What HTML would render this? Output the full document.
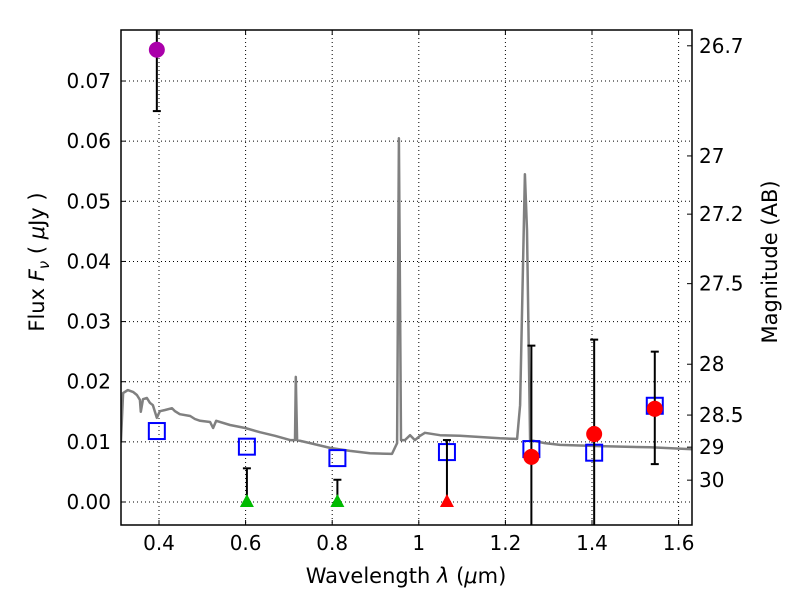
<!DOCTYPE html>
<html><head><meta charset="utf-8"><style>
body{margin:0;background:#fff}
svg text{font-family:"DejaVu Sans","Liberation Sans",sans-serif;fill:#000}
</style></head><body>
<svg id="chart" width="800" height="600" xmlns="http://www.w3.org/2000/svg">
<g id="grid"></g>
<g id="plot"></g>
<g id="axes"></g>
</svg>
<script>
const xTicks=[0.4,0.6,0.8,1.0,1.2,1.4,1.6];
const xTickLabels=["0.4","0.6","0.8","1","1.2","1.4","1.6"];
const yTicks=[0,0.01,0.02,0.03,0.04,0.05,0.06,0.07];
const yTickLabels=["0.00","0.01","0.02","0.03","0.04","0.05","0.06","0.07"];
const magTicks=[26.7,27,27.2,27.5,28,28.5,29,30];
const magTickLabels=["26.7","27","27.2","27.5","28","28.5","29","30"];
const specLam=[0.312,0.317,0.328,0.340,0.349,0.356,0.358,0.363,0.372,0.379,0.386,0.395,0.402,0.414,0.430,0.437,0.448,0.472,0.483,0.495,0.518,0.525,0.532,0.564,0.599,0.633,0.668,0.703,0.714,0.716,0.719,0.749,0.795,0.841,0.887,0.938,0.950,0.954,0.959,0.968,0.980,0.991,1.003,1.014,1.049,1.095,1.141,1.187,1.227,1.234,1.245,1.250,1.257,1.291,1.326,1.418,1.534,1.626,1.65];
const specFlux=[0.0100,0.0181,0.0186,0.0183,0.0178,0.0170,0.0150,0.0171,0.0173,0.0165,0.0161,0.0140,0.0151,0.0153,0.0156,0.0151,0.0146,0.0143,0.0138,0.0135,0.0133,0.0123,0.0135,0.0128,0.0123,0.0116,0.0110,0.0103,0.0103,0.0208,0.0103,0.0098,0.0090,0.0085,0.0081,0.0080,0.0098,0.0605,0.0103,0.0103,0.0111,0.0103,0.0110,0.0115,0.0111,0.0110,0.0108,0.0106,0.0105,0.0161,0.0545,0.0452,0.0103,0.0098,0.0095,0.0093,0.0091,0.0088,0.0087];
const sqLam=[0.395,0.603,0.812,1.065,1.26,1.405,1.545];
const sqFlux=[0.0118,0.0092,0.0073,0.0083,0.0088,0.0082,0.0160];
const purpleLam=[0.395];const purpleFlux=[0.0752];const purpleLo=[0.065];const purpleHi=[0.09];
const redLam=[1.26,1.405,1.545];const redFlux=[0.0075,0.0113,0.0155];const redLo=[-0.01,-0.01,0.0063];const redHi=[0.026,0.027,0.025];
const greenLam=[0.603,0.812];const greenFlux=[0,0];const greenHi=[0.0056,0.0037];
const redTriLam=[1.065];const redTriFlux=[0];const redTriHi=[0.0103];

const L=121,R=692,T=30,B=525;
const X=l=>159+(l-0.4)*433;
const Y=f=>502-f*6014;
const magY=m=>Y(Math.pow(10,(23.9-m)/2.5));
const NS="http://www.w3.org/2000/svg";
function mk(tag,attrs,parent,txt){const e=document.createElementNS(NS,tag);for(const k in attrs)e.setAttribute(k,attrs[k]);if(txt!==undefined)e.textContent=txt;parent.appendChild(e);return e;}
const grid=document.getElementById('grid'),plot=document.getElementById('plot'),axes=document.getElementById('axes');
const defs=mk('defs',{},document.getElementById('chart'));
const cp=mk('clipPath',{id:'clip'},defs);mk('rect',{x:L,y:T,width:R-L,height:B-T},cp);
plot.setAttribute('clip-path','url(#clip)');

xTicks.forEach((t,i)=>{
 const g=mk('line',{x1:X(t),x2:X(t),y1:T,y2:B,stroke:'#000','stroke-width':1,'stroke-dasharray':'1,3'},grid);
 
 mk('line',{x1:X(t),x2:X(t),y1:B,y2:B-5,stroke:'#000'},axes);
 mk('line',{x1:X(t),x2:X(t),y1:T,y2:T+5,stroke:'#000'},axes);
 const tx=mk('text',{x:X(t),y:B+25,'text-anchor':'middle','font-size':20},axes,xTickLabels[i]);
 
});
yTicks.forEach((t,i)=>{
 const g=mk('line',{x1:L,x2:R,y1:Y(t),y2:Y(t),stroke:'#000','stroke-width':1,'stroke-dasharray':'1,3'},grid);
 
 mk('line',{x1:L,x2:L+5,y1:Y(t),y2:Y(t),stroke:'#000'},axes);
 const tx=mk('text',{x:111,y:Y(t)+7,'text-anchor':'end','font-size':20},axes,yTickLabels[i]);
 
});
magTicks.forEach((m,i)=>{
 mk('line',{x1:R,x2:R-5,y1:magY(m),y2:magY(m),stroke:'#000'},axes);
 const tx=mk('text',{x:699,y:magY(m)+7,'font-size':20},axes,magTickLabels[i]);
 
});

let d=specLam.map((l,i)=>(i?'L':'M')+X(l).toFixed(1)+','+Y(specFlux[i]).toFixed(1)).join('');
const sp=mk('path',{d:d,fill:'none',stroke:'#808080','stroke-width':2.5,'stroke-linejoin':'round'},plot);


function err(l,lo,hi){
 const x=X(l);
 mk('line',{x1:x,x2:x,y1:Y(lo),y2:Y(hi),stroke:'#000','stroke-width':2},plot);
 mk('line',{x1:x-4,x2:x+4,y1:Y(hi),y2:Y(hi),stroke:'#000','stroke-width':2},plot);
 mk('line',{x1:x-4,x2:x+4,y1:Y(lo),y2:Y(lo),stroke:'#000','stroke-width':2},plot);
}
sqLam.forEach((l,i)=>{
 const r=mk('rect',{x:X(l)-8,y:Y(sqFlux[i])-8,width:16,height:16,fill:'none',stroke:'#0000ff','stroke-width':2},plot);
 
});
purpleLam.forEach((l,i)=>{
 err(l,purpleLo[i],purpleHi[i]);
 const c=mk('circle',{cx:X(l),cy:Y(purpleFlux[i]),r:8,fill:'#aa00aa'},plot);
 
});
greenLam.forEach((l,i)=>{
 err(l,greenFlux[i],greenHi[i]);
 const x=X(l),y=Y(greenFlux[i]);
 const p=mk('polygon',{points:`${x},${y-8} ${x-7},${y+5} ${x+7},${y+5}`,fill:'#00bb00'},plot);
 
});
redTriLam.forEach((l,i)=>{
 err(l,redTriFlux[i],redTriHi[i]);
 const x=X(l),y=Y(redTriFlux[i]);
 const p=mk('polygon',{points:`${x},${y-8} ${x-7},${y+5} ${x+7},${y+5}`,fill:'#ff0000'},plot);
 
});
redLam.forEach((l,i)=>{
 err(l,redLo[i],redHi[i]);
 const c=mk('circle',{cx:X(l),cy:Y(redFlux[i]),r:8,fill:'#ff0000'},plot);
 
});

const fr=mk('rect',{x:L,y:T,width:R-L,height:B-T,fill:'none',stroke:'#000','stroke-width':1.5},axes);

const xl=mk('text',{x:406,y:583,'text-anchor':'middle','font-size':21,'xml:space':'preserve'},axes);
xl.innerHTML='Wavelength  <tspan font-style="italic">λ</tspan> (<tspan font-style="italic">μ</tspan>m)';

const yl=mk('text',{x:0,y:0,'text-anchor':'middle','font-size':21,transform:'translate(44,262) rotate(-90)'},axes);
yl.innerHTML='Flux  <tspan font-style="italic">F</tspan><tspan font-style="italic" font-size="15" dy="5">ν</tspan><tspan dy="-5">  ( </tspan><tspan font-style="italic">μ</tspan>Jy )';

const ml=mk('text',{x:0,y:0,'text-anchor':'middle','font-size':21,transform:'translate(777,262) rotate(-90)'},axes,'Magnitude (AB)');

</script>
</body></html>
